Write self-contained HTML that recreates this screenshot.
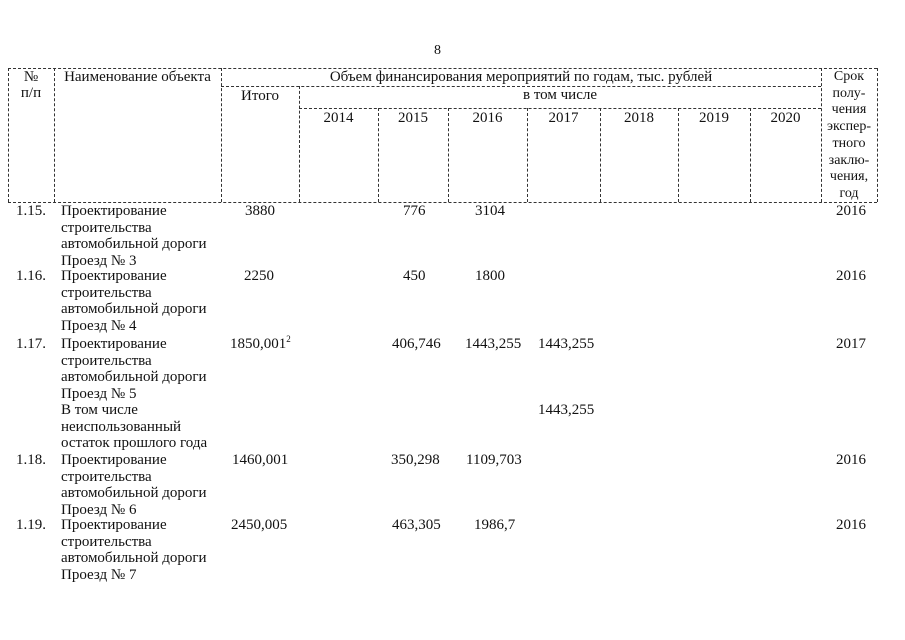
<!DOCTYPE html>
<html><head><meta charset="utf-8"><style>
body{margin:0;background:#fff;width:905px;height:640px;position:relative;overflow:hidden;font-family:"Liberation Serif","Noto Serif CJK SC",serif;font-size:15px;color:#111}
.t{position:absolute;line-height:16.5px;white-space:nowrap}
.h{position:absolute;height:0;border-top:1px dashed #333}
.v{position:absolute;width:0;border-left:1px dashed #333}
.c{text-align:center}
</style></head><body>
<div class="t" style="left:434px;top:43px;font-size:14px">8</div>
<div class="h" style="left:8px;top:68px;width:869px"></div>
<div class="h" style="left:221px;top:86px;width:600px"></div>
<div class="h" style="left:299px;top:108px;width:522px"></div>
<div class="h" style="left:8px;top:202px;width:869px"></div>
<div class="v" style="left:8px;top:68px;height:134px"></div>
<div class="v" style="left:54px;top:68px;height:134px"></div>
<div class="v" style="left:221px;top:68px;height:134px"></div>
<div class="v" style="left:299px;top:86px;height:116px"></div>
<div class="v" style="left:378px;top:108px;height:94px"></div>
<div class="v" style="left:448px;top:108px;height:94px"></div>
<div class="v" style="left:527px;top:108px;height:94px"></div>
<div class="v" style="left:600px;top:108px;height:94px"></div>
<div class="v" style="left:678px;top:108px;height:94px"></div>
<div class="v" style="left:750px;top:108px;height:94px"></div>
<div class="v" style="left:821px;top:68px;height:134px"></div>
<div class="v" style="left:877px;top:68px;height:134px"></div>
<div class="t c" style="left:8px;width:46px;top:69px;line-height:16px">№<br>п/п</div>
<div class="t c" style="left:54px;width:167px;top:69px">Наименование объекта</div>
<div class="t c" style="left:221px;width:600px;top:69px">Объем финансирования мероприятий по годам, тыс. рублей</div>
<div class="t c" style="left:221px;width:78px;top:88px">Итого</div>
<div class="t c" style="left:299px;width:522px;top:87px">в том числе</div>
<div class="t c" style="left:299px;width:79px;top:110px">2014</div>
<div class="t c" style="left:378px;width:70px;top:110px">2015</div>
<div class="t c" style="left:448px;width:79px;top:110px">2016</div>
<div class="t c" style="left:527px;width:73px;top:110px">2017</div>
<div class="t c" style="left:600px;width:78px;top:110px">2018</div>
<div class="t c" style="left:678px;width:72px;top:110px">2019</div>
<div class="t c" style="left:750px;width:71px;top:110px">2020</div>
<div class="t c" style="left:821px;width:56px;top:69px;line-height:16.7px;font-size:14px">Срок<br>полу-<br>чения<br>экспер-<br>тного<br>заклю-<br>чения,<br>год</div>

<div class="t" style="left:16px;top:203px">1.15.</div>
<div class="t" style="left:61px;top:203px">Проектирование<br>строительства<br>автомобильной дороги<br>Проезд № 3</div>
<div class="t" style="left:245px;top:203px">3880</div>
<div class="t" style="left:403px;top:203px">776</div>
<div class="t" style="left:475px;top:203px">3104</div>
<div class="t" style="left:836px;top:203px">2016</div>

<div class="t" style="left:16px;top:268px">1.16.</div>
<div class="t" style="left:61px;top:268px">Проектирование<br>строительства<br>автомобильной дороги<br>Проезд № 4</div>
<div class="t" style="left:244px;top:268px">2250</div>
<div class="t" style="left:403px;top:268px">450</div>
<div class="t" style="left:475px;top:268px">1800</div>
<div class="t" style="left:836px;top:268px">2016</div>

<div class="t" style="left:16px;top:336px">1.17.</div>
<div class="t" style="left:61px;top:336px">Проектирование<br>строительства<br>автомобильной дороги<br>Проезд № 5<br>В том числе<br>неиспользованный<br>остаток прошлого года</div>
<div class="t" style="left:230px;top:336px">1850,001<sup style="font-size:9px;line-height:0">2</sup></div>
<div class="t" style="left:392px;top:336px">406,746</div>
<div class="t" style="left:465px;top:336px">1443,255</div>
<div class="t" style="left:538px;top:336px">1443,255</div>
<div class="t" style="left:538px;top:402px">1443,255</div>
<div class="t" style="left:836px;top:336px">2017</div>

<div class="t" style="left:16px;top:452px">1.18.</div>
<div class="t" style="left:61px;top:452px">Проектирование<br>строительства<br>автомобильной дороги<br>Проезд № 6</div>
<div class="t" style="left:232px;top:452px">1460,001</div>
<div class="t" style="left:391px;top:452px">350,298</div>
<div class="t" style="left:466px;top:452px">1109,703</div>
<div class="t" style="left:836px;top:452px">2016</div>

<div class="t" style="left:16px;top:517px">1.19.</div>
<div class="t" style="left:61px;top:517px">Проектирование<br>строительства<br>автомобильной дороги<br>Проезд № 7</div>
<div class="t" style="left:231px;top:517px">2450,005</div>
<div class="t" style="left:392px;top:517px">463,305</div>
<div class="t" style="left:474px;top:517px">1986,7</div>
<div class="t" style="left:836px;top:517px">2016</div>
</body></html>
